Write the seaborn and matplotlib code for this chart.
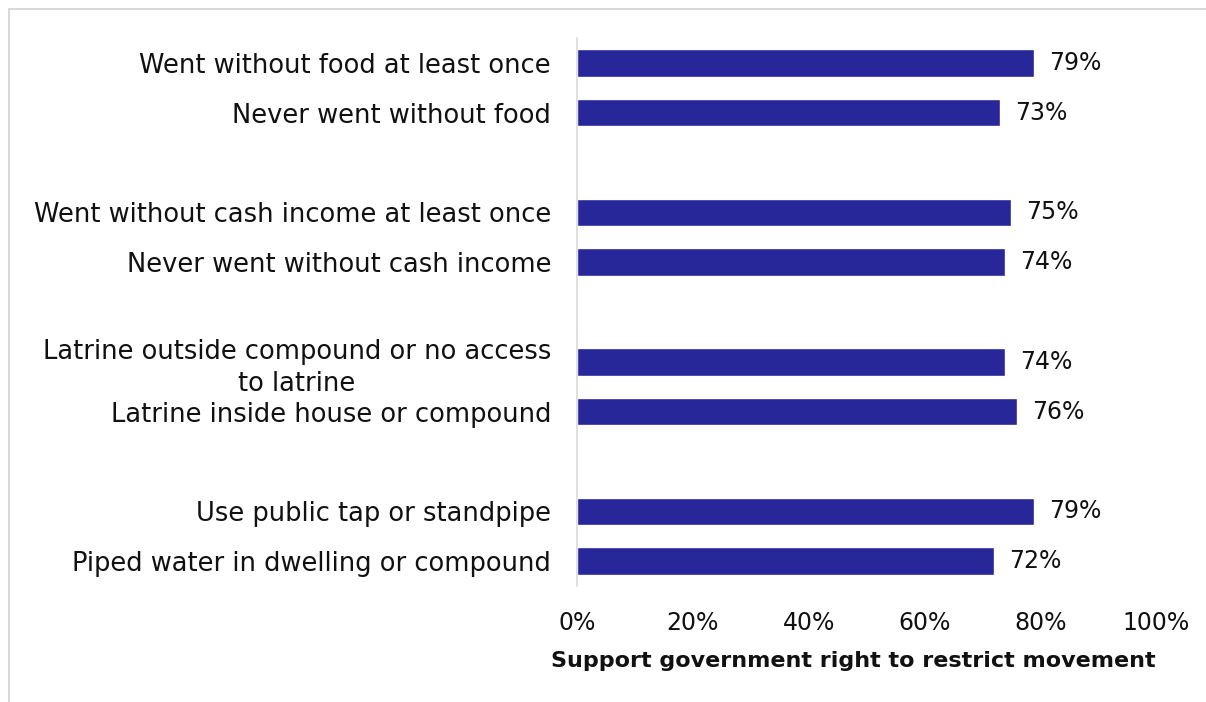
import matplotlib
matplotlib.use("Agg")
import matplotlib.pyplot as plt
import seaborn as sns
import pandas as pd
import numpy as np
from matplotlib.patches import Rectangle

categories = [
    "Went without food at least once",
    "Never went without food",
    "Went without cash income at least once",
    "Never went without cash income",
    "Latrine outside compound or no access\nto latrine",
    "Latrine inside house or compound",
    "Use public tap or standpipe",
    "Piped water in dwelling or compound",
]
values = [79, 73, 75, 74, 74, 76, 79, 72]
groups = [0, 0, 1, 1, 2, 2, 3, 3]
xticks = [0, 20, 40, 60, 80, 100]
xlabel = "Support government right to restrict movement"

# build order with blank spacer slots between groups
order, vals = [], []
prev = None
for i, (c, v, g) in enumerate(zip(categories, values, groups)):
    if prev is not None and g != prev:
        order.append(" " * (g + 1))
        vals.append(np.nan)
    order.append(c)
    vals.append(v)
    prev = g
df = pd.DataFrame({"cat": order, "val": vals})

sns.set_style("white")
plt.rcParams["font.family"] = ["DejaVu Sans"]

fig = plt.figure(figsize=(12.06, 7.02), dpi=100)
ax = fig.add_axes([577/1206, 1-586/702, (1156-577)/1206, (586-38)/702])
bar_color = "#27279A"
sns.barplot(data=df, x="val", y="cat", order=order, orient="h",
            color=bar_color, width=0.55, saturation=1, ax=ax)

ax.set_xlim(0, 100)
ax.set_ylim(len(order) - 0.5, -0.5)
ax.set_xticks(xticks)
ax.set_xticklabels([f"{t}%" for t in xticks], fontsize=17, color="#111111")
ax.set_yticks(range(len(order)))
ax.set_yticklabels(order, fontsize=18.5, color="#111111", multialignment="center",
                   linespacing=1.3)
ax.tick_params(axis="both", length=0)
ax.tick_params(axis="y", pad=18.7)
ax.tick_params(axis="x", pad=18)
ax.set_ylabel("")
ax.set_xlabel(xlabel, fontsize=16, fontweight="bold", color="#111111")
ax.xaxis.set_label_coords(0.478, -0.118)

for s in ["top", "right", "bottom"]:
    ax.spines[s].set_visible(False)
ax.spines["left"].set_color("#D9D9D9")
ax.spines["left"].set_linewidth(1.2)

for i, v in enumerate(vals):
    if not np.isnan(v):
        ax.text(v + 2.6, i, f"{v}%", va="center", ha="left", fontsize=17, color="#111111")

fig.patches.append(Rectangle((9/1206, -0.1), 1.2, 1.1 - 9/702,
                             transform=fig.transFigure, fill=False,
                             edgecolor="#D9D9D9", linewidth=1.5))

fig.savefig("out.png", dpi=100)
